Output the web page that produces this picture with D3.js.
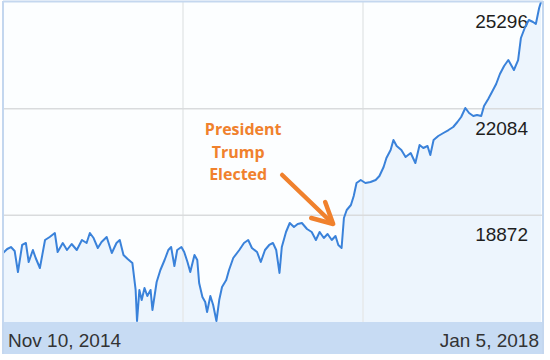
<!DOCTYPE html>
<html><head><meta charset="utf-8">
<script src="https://cdn.jsdelivr.net/npm/d3@7"></script>
<style>html,body{margin:0;padding:0;background:#fff;} svg{display:block;}</style>
</head><body>
<svg id="c" width="550" height="360"></svg>
<script>
const dates = [
"2014-11-10","2014-11-19","2014-11-27","2014-12-05","2014-12-12","2014-12-21","2014-12-29",
"2015-01-04","2015-01-13","2015-01-19","2015-01-28","2015-02-08","2015-02-18","2015-03-01",
"2015-03-07","2015-03-18","2015-03-27","2015-04-06","2015-04-17","2015-04-28","2015-05-08",
"2015-05-15","2015-05-23","2015-06-01","2015-06-09","2015-06-20","2015-07-01","2015-07-11",
"2015-07-18","2015-07-26","2015-08-04","2015-08-14","2015-08-21","2015-08-24","2015-08-29",
"2015-09-03","2015-09-09","2015-09-15","2015-09-22","2015-09-26","2015-10-05","2015-10-13",
"2015-10-22","2015-10-30","2015-11-05","2015-11-12","2015-11-18","2015-11-27","2015-12-03",
"2015-12-10","2015-12-16","2015-12-25","2015-12-31","2016-01-04","2016-01-11","2016-01-17",
"2016-01-21","2016-01-28","2016-02-03","2016-02-10","2016-02-16","2016-02-22","2016-03-02",
"2016-03-08","2016-03-17","2016-03-30","2016-04-09","2016-04-18","2016-04-26","2016-05-07",
"2016-05-15","2016-05-24","2016-06-02","2016-06-10","2016-06-17","2016-06-24","2016-06-29",
"2016-07-08","2016-07-16","2016-07-25","2016-08-02","2016-08-11","2016-08-22","2016-09-01",
"2016-09-10","2016-09-18","2016-09-27","2016-10-05","2016-10-14","2016-10-22","2016-10-28",
"2016-11-04","2016-11-09","2016-11-15","2016-11-24","2016-11-30","2016-12-06","2016-12-15",
"2016-12-25","2017-01-05","2017-01-16","2017-01-24","2017-02-02","2017-02-08","2017-02-17",
"2017-02-23","2017-03-02","2017-03-12","2017-03-21","2017-04-01","2017-04-11","2017-04-20",
"2017-04-28","2017-05-07","2017-05-13","2017-05-20","2017-05-30","2017-06-10","2017-06-21",
"2017-07-01","2017-07-10","2017-07-18","2017-07-27","2017-08-04","2017-08-13","2017-08-21",
"2017-08-30","2017-09-05","2017-09-14","2017-09-22","2017-10-01","2017-10-09","2017-10-18",
"2017-10-27","2017-11-02","2017-11-08","2017-11-17","2017-11-23","2017-12-02","2017-12-10",
"2017-12-19","2017-12-25","2018-01-01","2018-01-05"];
const values = [
17738,17858,17918,17798,17166,17979,18039,
17467,17828,17587,17286,18129,18220,18340,
17768,18039,17828,18009,17828,18129,18039,
18340,18189,17888,18069,18220,17738,18039,
18129,17678,17557,17437,16624,15690,16624,
16322,16684,16443,16624,16021,16864,17226,
17527,17828,17918,17346,17828,17918,17768,
17467,17166,17678,17527,16834,16413,16262,
15961,16443,16172,15690,16322,16714,16925,
17226,17587,17828,18039,18129,17888,17768,
17467,17828,17979,18039,17828,17136,17918,
18370,18641,18520,18611,18641,18460,18370,
18129,18370,18189,18310,18129,18250,17979,
17888,18792,19033,19183,19454,19846,19936,
19846,19876,19936,20056,20327,20598,20839,
21140,20960,20839,20628,20749,20448,20990,
20899,20960,20689,21140,21261,21351,21441,
21532,21682,21833,22104,21953,21863,21893,
21863,22164,22375,22586,22827,23128,23369,
23549,23399,23248,23549,24212,24543,24754,
24694,24634,25115,25296];
const yDomain = [15660, 25296];
const yTicks = [18872, 22084, 25296];
const xLabels = ["Nov 10, 2014", "Jan 5, 2018"];
const annotationLines = ["President", "Trump", "Elected"];
const annotationPoint = {date: "2016-10-17", value: 18611};

const parse = d3.timeParse("%Y-%m-%d");
const data = dates.map((d, i) => ({date: parse(d), value: values[i]}));

const frameL = 3, frameR = 543, plotTop = 2, plotBottom = 322, barBottom = 354;
const x = d3.scaleTime().domain(d3.extent(data, d => d.date)).range([frameL, 541]);
const y = d3.scaleLinear().domain(yDomain).range([plotBottom, plotTop]);
const gx = d3.scaleLinear().domain([0, 3]).range([frameL, frameR]);

const svg = d3.select("#c");

svg.append("rect").attr("x", frameL).attr("y", plotTop).attr("width", frameR - frameL).attr("height", plotBottom - plotTop)
  .attr("fill", "#fcfeff");

svg.append("path").datum(data)
  .attr("d", d3.area().x(d => x(d.date)).y0(plotBottom).y1(d => y(d.value)))
  .attr("fill", "#edf5fd");

svg.selectAll("line.vg").data([1, 2]).join("line").attr("class", "vg")
  .attr("x1", d => gx(d)).attr("x2", d => gx(d)).attr("y1", plotTop).attr("y2", plotBottom)
  .attr("stroke", "#e6e8ea").attr("stroke-width", 1.5);

svg.selectAll("line.hg").data(yTicks.slice(0, 2)).join("line").attr("class", "hg")
  .attr("x1", frameL).attr("x2", frameR).attr("y1", d => y(d)).attr("y2", d => y(d))
  .attr("stroke", "#d9dbdd").attr("stroke-width", 1.5);

svg.selectAll("text.yl").data(yTicks).join("text").attr("class", "yl")
  .attr("x", 528).attr("y", d => y(d) + 26)
  .attr("text-anchor", "end")
  .attr("font-family", "Liberation Sans, Arial, sans-serif").attr("font-size", 19)
  .attr("fill", "#1e1e1e").text(d => d);

svg.append("path").datum(data)
  .attr("d", d3.line().x(d => x(d.date)).y(d => y(d.value)))
  .attr("fill", "none").attr("stroke", "#3a82da").attr("stroke-width", 2).attr("stroke-linejoin", "round");

svg.append("rect").attr("x", frameL).attr("y", plotBottom).attr("width", frameR - frameL).attr("height", barBottom - plotBottom)
  .attr("fill", "#c7dbf3");

svg.selectAll("text.xl").data(xLabels).join("text").attr("class", "xl")
  .attr("x", (d, i) => i === 0 ? 8 : 539).attr("y", 347)
  .attr("text-anchor", (d, i) => i === 0 ? "start" : "end")
  .attr("font-family", "Liberation Sans, Arial, sans-serif").attr("font-size", 19)
  .attr("fill", "#333").text(d => d);

// frame
const frameColor = "#c4d7ef";
svg.append("line").attr("x1", frameL).attr("x2", frameL).attr("y1", 1).attr("y2", barBottom).attr("stroke", frameColor).attr("stroke-width", 2);
svg.append("line").attr("x1", frameR).attr("x2", frameR).attr("y1", 1).attr("y2", barBottom).attr("stroke", frameColor).attr("stroke-width", 2);
svg.append("line").attr("x1", frameL).attr("x2", frameR).attr("y1", 1.5).attr("y2", 1.5).attr("stroke", frameColor).attr("stroke-width", 2);

// annotation
const orange = "#f0812d";
const tx = x(parse(annotationPoint.date)), ty = y(annotationPoint.value);
const ann = svg.append("g");
ann.append("line").attr("x1", tx - 51).attr("y1", ty - 49).attr("x2", tx - 1).attr("y2", ty - 1)
  .attr("stroke", orange).attr("stroke-width", 4.5).attr("stroke-linecap", "round");
ann.append("path").attr("d", `M${tx - 8},${ty - 22} L${tx},${ty} L${tx - 22},${ty - 6}`)
  .attr("fill", "none").attr("stroke", orange).attr("stroke-width", 4.5).attr("stroke-linecap", "round").attr("stroke-linejoin", "round");
ann.selectAll("text").data(annotationLines).join("text")
  .attr("x", (d, i) => i === 0 ? tx - 90 : tx - 95)
  .attr("y", (d, i) => ty - 89 + i * 22.5)
  .attr("text-anchor", "middle")
  .attr("font-family", "Open Sans, sans-serif").attr("font-weight", 700).attr("font-size", 16)
  .attr("fill", orange).text(d => d);
</script>
</body></html>
